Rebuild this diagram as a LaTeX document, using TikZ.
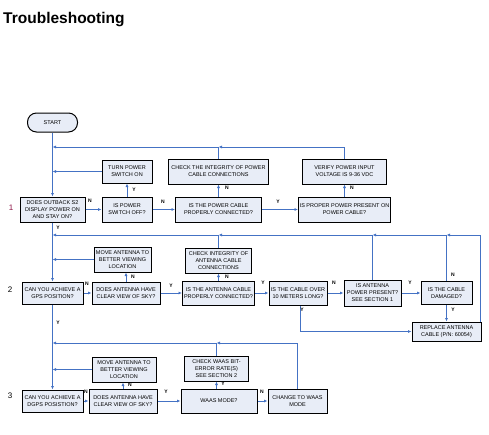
\documentclass[tikz,border=0pt]{standalone}
\usepackage{fontspec}
\setmainfont{Liberation Sans}
\usepackage{xcolor}
\usetikzlibrary{arrows.meta}

\definecolor{flowblue}{RGB}{68,114,196}
\definecolor{boxfill}{RGB}{232,237,247}
\definecolor{rownum}{RGB}{140,20,70}

\begin{document}
\begin{tikzpicture}[x=1pt, y=-1pt,
  box/.style={draw=black, line width=1pt, fill=boxfill, align=center, inner sep=1pt,
    font=\fontsize{5.5}{7}\selectfont},
  flow/.style={draw=flowblue, line width=0.8pt, -{Latex[length=3.5pt,width=3pt]}},
  wire/.style={draw=flowblue, line width=0.8pt},
  lab/.style={font=\fontsize{5}{5}\selectfont\bfseries, inner sep=0pt},
  rowlab/.style={font=\fontsize{8}{8}\selectfont, inner sep=0pt}]
  \useasboundingbox (0,0) rectangle (489,434);

  % Title
  \node[anchor=base west, inner sep=0pt, font=\fontsize{15.5}{16}\selectfont\bfseries] (title) at (3,23) {Troubleshooting};

  % Start
  \node[box, rounded corners=9pt, minimum width=50, minimum height=19] (start) at (52.5,122.5) {START};

  % Row 1 - power
  \node[rowlab, text=rownum] (row1) at (11,208) {1};
  \node[box, minimum width=65, minimum height=25] (q1) at (52.5,209.5) {DOES OUTBACK S2\\DISPLAY POWER ON\\AND STAY ON?};
  \node[box, minimum width=50, minimum height=25] (swoff) at (127,209.5) {IS POWER\\SWITCH OFF?};
  \node[box, minimum width=50, minimum height=23] (swon) at (127,171.5) {TURN POWER\\SWITCH ON};
  \node[box, minimum width=86, minimum height=25] (pcable) at (218.5,209.5) {IS THE POWER CABLE\\PROPERLY CONNECTED?};
  \node[box, minimum width=100, minimum height=25] (pcheck) at (218.5,171.5) {CHECK THE INTEGRITY OF POWER\\CABLE CONNECTIONS};
  \node[box, minimum width=92, minimum height=25] (ppresent) at (344.5,209.5) {IS PROPER POWER PRESENT ON\\POWER CABLE?};
  \node[box, minimum width=84, minimum height=25] (pverify) at (344.5,171.5) {VERIFY POWER INPUT\\VOLTAGE IS 9-36 VDC};

  % Row 2 - GPS
  \node[rowlab] (row2) at (10,290) {2};
  \node[box, minimum width=61, minimum height=22] (q2) at (52.5,293) {CAN YOU ACHIEVE A\\GPS POSITION?};
  \node[box, minimum width=68, minimum height=22] (sky2) at (126,293) {DOES ANTENNA HAVE\\CLEAR VIEW OF SKY?};
  \node[box, minimum width=57, minimum height=25] (move2) at (122.5,259.5) {MOVE ANTENNA TO\\BETTER VIEWING\\LOCATION};
  \node[box, minimum width=72, minimum height=24] (acable) at (218.5,293) {IS THE ANTENNA CABLE\\PROPERLY CONNECTED?};
  \node[box, minimum width=66, minimum height=25] (acheck) at (218.5,260.5) {CHECK INTEGRITY OF\\ANTENNA CABLE\\CONNECTIONS};
  \node[box, minimum width=58, minimum height=24] (long) at (298,293) {IS THE CABLE OVER\\10 METERS LONG?};
  \node[box, minimum width=57, minimum height=26] (apower) at (372.5,293) {IS ANTENNA\\POWER PRESENT?\\SEE SECTION 1};
  \node[box, minimum width=51, minimum height=23] (damaged) at (446.5,293) {IS THE CABLE\\DAMAGED?};
  \node[box, minimum width=69, minimum height=19] (replace) at (446.5,331.5) {REPLACE ANTENNA\\CABLE (P/N: 60054)};

  % Row 3 - DGPS
  \node[rowlab] (row3) at (10,396) {3};
  \node[box, minimum width=61, minimum height=22] (q3) at (52.5,401) {CAN YOU ACHIEVE A\\DGPS POSISTION?};
  \node[box, minimum width=68, minimum height=24] (sky3) at (123,401) {DOES ANTENNA HAVE\\CLEAR VIEW OF SKY?};
  \node[box, minimum width=64, minimum height=25] (move3) at (124,369.5) {MOVE ANTENNA TO\\BETTER VIEWING\\LOCATION};
  \node[box, minimum width=76, minimum height=24] (waas) at (219,401) {WAAS MODE?};
  \node[box, minimum width=64, minimum height=25] (bit) at (216.5,368.5) {CHECK WAAS BIT-\\ERROR RATE(S)\\SEE SECTION 2};
  \node[box, minimum width=59, minimum height=24] (change) at (297.5,401) {CHANGE TO WAAS\\MODE};

  % Return points on the main line
  \coordinate (r1) at (52.5,147);
  \coordinate (j1a) at (218.5,147);
  \coordinate (r2) at (52.5,235);
  \coordinate (j2a) at (218.5,235);
  \coordinate (j2b) at (372.5,235);
  \coordinate (j2c) at (446.5,235);
  \coordinate (r3) at (52.5,343);
  \coordinate (j3a) at (216.5,343);

  % Main line
  \draw[flow] (start) -- (q1);
  \draw[flow] (q1) -- (q2);
  \draw[flow] (q2) -- (q3);

  % Row 1 flow
  \draw[flow] (q1) -- (swoff);
  \draw[flow] (swoff) -- (swon);
  \draw[flow] (swon.west) -- (swon.west -| start.south);
  \draw[flow] (swoff) -- (pcable);
  \draw[flow] (pcable) -- (pcheck);
  \draw[flow] (pcable) -- (ppresent);
  \draw[flow] (ppresent) -- (pverify);
  \draw[flow] (pverify.north) |- (j1a);
  \draw[wire] (pcheck.north) -- (j1a);
  \draw[flow] (j1a) -- (r1);

  % Row 2 flow
  \draw[flow] (q2) -- (sky2);
  \draw[flow] (sky2.north) -- (sky2.north |- move2.south);
  \draw[flow] (move2.west) -- (move2.west -| start.south);
  \draw[flow] (sky2) -- (acable);
  \draw[flow] (acable) -- (acheck);
  \draw[flow] (acable) -- (long);
  \draw[flow] (long) -- (apower);
  \draw[flow] (apower) -- (damaged);
  \draw[flow] (damaged) -- (replace);
  \draw[flow] ([xshift=2]long.south) |- (replace.west);
  \draw[flow] ([xshift=-1.5]replace.north east) |- (j2c);
  \draw[wire] (damaged.north) -- (j2c);
  \draw[flow] (j2c) -- (j2b);
  \draw[wire] (apower.north) -- (j2b);
  \draw[flow] (j2b) -- (j2a);
  \draw[wire] (acheck.north) -- (j2a);
  \draw[flow] (j2a) -- (r2);

  % Row 3 flow
  \draw[flow] (q3) -- (sky3);
  \draw[flow] (sky3.north) -- (sky3.north |- move3.south);
  \draw[flow] (move3.west) -- (move3.west -| start.south);
  \draw[flow] (sky3) -- (waas);
  \draw[flow] (waas.north -| bit.south) -- (bit.south);
  \draw[flow] (waas) -- (change);
  \draw[flow] (change.north) |- (j3a);
  \draw[wire] (bit.north) -- (j3a);
  \draw[flow] (j3a) -- (r3);

  % Yes / No labels
  \node[lab] (n11) at (90,201) {N};
  \node[lab] (y12) at (134,190) {Y};
  \node[lab] (n13) at (163,202) {N};
  \node[lab] (n14) at (227,188) {N};
  \node[lab] (y15) at (278,202) {Y};
  \node[lab] (n16) at (352,188) {N};
  \node[lab] (y17) at (58,228) {Y};

  \node[lab] (n21) at (87,284) {N};
  \node[lab] (n22) at (133,277) {N};
  \node[lab] (y23) at (171,286) {Y};
  \node[lab] (n24) at (227,277) {N};
  \node[lab] (y25) at (263,283) {Y};
  \node[lab] (n26) at (334,283) {N};
  \node[lab] (y27) at (410,283) {Y};
  \node[lab] (n28) at (453,275) {N};
  \node[lab] (y29) at (453,310) {Y};
  \node[lab] (y30) at (302,310) {Y};
  \node[lab] (y31) at (58,323) {Y};

  \node[lab] (n32) at (86,392) {N};
  \node[lab] (n33) at (130,385) {N};
  \node[lab] (y34) at (166,392) {Y};
  \node[lab] (y35) at (223,384) {Y};
  \node[lab] (n36) at (262,392) {N};
\end{tikzpicture}
\end{document}
